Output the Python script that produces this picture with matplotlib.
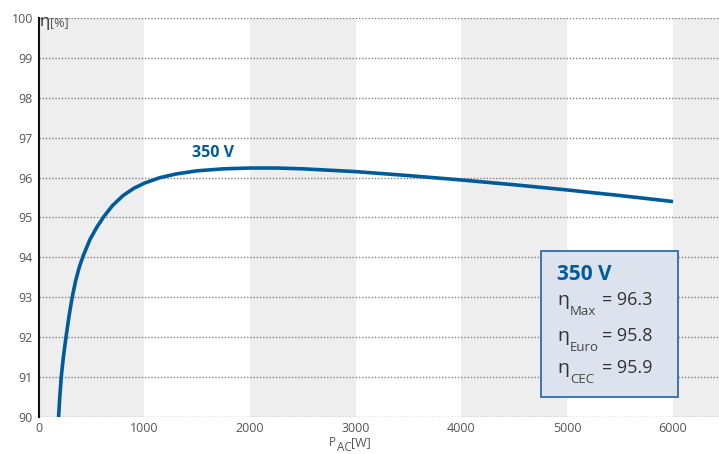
import matplotlib
matplotlib.use("Agg")
import matplotlib.pyplot as plt
from matplotlib.patches import Rectangle

plt.rcParams['font.family'] = ['Open Sans', 'DejaVu Sans']

# data
p_ac = [190, 200, 215, 235, 260, 287, 317, 350, 385, 424, 487, 550, 620, 700, 800, 900,
        1000, 1150, 1300, 1500, 1750, 2000, 2250, 2500, 3000, 3500, 4000,
        4500, 5000, 5500, 6000]
eta = [90.0, 90.45, 91.0, 91.5, 92.0, 92.5, 92.98, 93.4, 93.75, 94.05, 94.45, 94.75,
       95.03, 95.3, 95.55, 95.73, 95.86, 96.0, 96.09, 96.17, 96.22, 96.24, 96.24,
       96.22, 96.15, 96.05, 95.94, 95.82, 95.69, 95.55, 95.40]
series_label = "350 V"
x_ticks = [0, 1000, 2000, 3000, 4000, 5000, 6000]
y_ticks = [90, 91, 92, 93, 94, 95, 96, 97, 98, 99, 100]
summary_names = ["Max", "Euro", "CEC"]
summary_values = ["96.3", "95.8", "95.9"]

W, H = 719, 454
fig = plt.figure(figsize=(W / 100, H / 100), dpi=100)
ax = fig.add_axes([38.5 / W, 1 - 417 / H, (W - 38.5) / W, (417 - 18) / H])

blue = '#005b9a'
xmax = 6435
ax.set_xlim(0, xmax)
ax.set_ylim(90, 100)

# alternating bands
for i, x0 in enumerate(x_ticks):
    if i % 2 == 0:
        ax.axvspan(x0, x0 + 1000, color='#eeeeee', lw=0, zorder=0)

for y in y_ticks:
    ax.axhline(y, color='#808080', lw=1.0, ls=(0, (1, 1.3)), zorder=1)

ax.plot(p_ac, eta, color=blue, lw=2.6, solid_capstyle='butt', zorder=3)

for s in ['top', 'right', 'bottom']:
    ax.spines[s].set_visible(False)
ax.spines['left'].set_color('#111111')
ax.spines['left'].set_linewidth(1.5)
ax.set_xticks(x_ticks)
ax.set_yticks(y_ticks)
ax.tick_params(axis='both', length=0, labelsize=9, labelcolor='#555555')
ax.tick_params(axis='x', pad=3.5)
ax.tick_params(axis='y', pad=4)

def fx(px):
    return px / W

def fy(py):
    return 1 - py / H

# axis labels
fig.text(fx(40), fy(26), 'η', fontsize=12, color='#333333', va='baseline', ha='left')
fig.text(fx(50), fy(26), '[%]', fontsize=9, color='#555555', va='baseline', ha='left')
fig.text(fx(329), fy(446), 'P', fontsize=8.5, color='#555555', va='baseline', ha='left')
fig.text(fx(337), fy(451), 'AC', fontsize=8.5, color='#555555', va='baseline', ha='left')
fig.text(fx(351), fy(446.5), '[W]', fontsize=9, color='#555555', va='baseline', ha='left')

# curve label
ax.text(1650, 96.42, series_label, fontsize=11.5, fontweight='bold', color=blue,
        ha='center', va='bottom')

# summary box
box = Rectangle((fx(541), fy(397)), (678 - 541) / W, (397 - 251) / H,
                transform=fig.transFigure, facecolor='#dde3ee', edgecolor='#2c6ea8',
                lw=1.3, zorder=5)
fig.patches.append(box)
fig.text(fx(557), fy(280), series_label, fontsize=15, fontweight='bold', color=blue,
         va='baseline', ha='left', zorder=6)
base = [305, 341, 373]
sub_base = [315, 351, 383]
for name, val, b, sb in zip(summary_names, summary_values, base, sub_base):
    fig.text(fx(557), fy(b), 'η', fontsize=14, color='#333333', va='baseline', ha='left', zorder=6)
    fig.text(fx(570), fy(sb), name, fontsize=9.5, color='#444444', va='baseline', ha='left', zorder=6)
    fig.text(fx(602), fy(b), '= ' + val, fontsize=13, color='#333333', va='baseline', ha='left', zorder=6)

fig.savefig('out.png', dpi=100)
